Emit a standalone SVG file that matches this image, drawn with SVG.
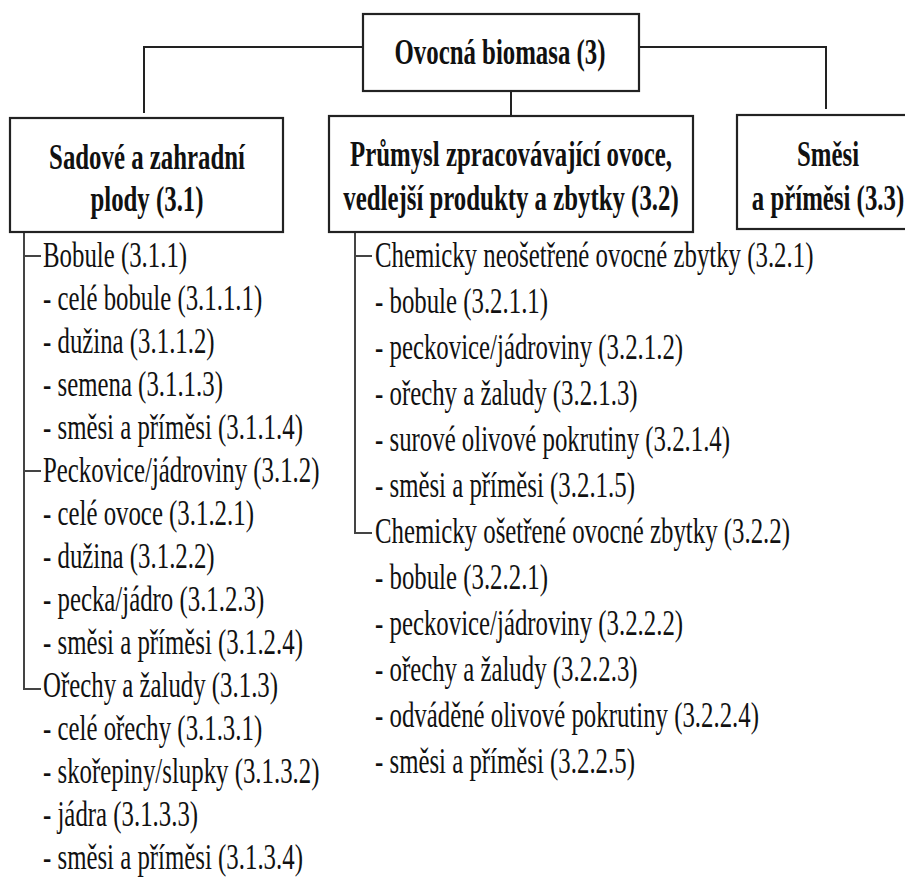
<svg xmlns="http://www.w3.org/2000/svg" width="905" height="879" viewBox="0 0 905 879">
<style>
text{font-family:"Liberation Serif","Times New Roman",serif;font-size:36px;fill:#111;}
.b{font-weight:bold;text-anchor:middle;}
.box{fill:#fff;stroke:#222;stroke-width:2.2;}
.ln{fill:none;stroke:#222;stroke-width:2;}
.tree{fill:none;stroke:#444;stroke-width:2;}
</style>
<rect width="905" height="879" fill="#fff"/>
<g id="connectors">
<path class="ln" d="M144,113 V47 H363 M639,47 H826 V109 M511,91 V116"/>
<path class="tree" d="M24,233 V689 H41 M24,256 H41 M24,471 H41"/>
<path class="tree" d="M355,233 V533 H372 M355,256 H372"/>
</g>
<g id="n3">
<rect class="box" x="363" y="14" width="276" height="77"/>
<text class="b" transform="translate(500,64) scale(0.69,1)">Ovocná biomasa (3)</text>
</g>
<g id="n31">
<rect class="box" x="10" y="118" width="273" height="114"/>
<text class="b" transform="translate(147,169) scale(0.69,1)">Sadové a zahradní</text>
<text class="b" transform="translate(147,211) scale(0.69,1)">plody (3.1)</text>
</g>
<g id="n32">
<rect class="box" x="329" y="116" width="364" height="116"/>
<text class="b" transform="translate(511,166) scale(0.69,1)">Průmysl zpracovávající ovoce,</text>
<text class="b" transform="translate(511,210) scale(0.69,1)">vedlejší produkty a zbytky (3.2)</text>
</g>
<g id="n33">
<rect class="box" x="737" y="115" width="182" height="114"/>
<text class="b" transform="translate(828,166) scale(0.69,1)">Směsi</text>
<text class="b" transform="translate(828,210) scale(0.69,1)">a příměsi (3.3)</text>
</g>
<g id="list31">
<text transform="translate(43,267) scale(0.69,1)">Bobule (3.1.1)</text>
<text transform="translate(43,310) scale(0.69,1)">- celé bobule (3.1.1.1)</text>
<text transform="translate(43,353) scale(0.69,1)">- dužina (3.1.1.2)</text>
<text transform="translate(43,396) scale(0.69,1)">- semena (3.1.1.3)</text>
<text transform="translate(43,439) scale(0.69,1)">- směsi a příměsi (3.1.1.4)</text>
<text transform="translate(43,482) scale(0.69,1)">Peckovice/jádroviny (3.1.2)</text>
<text transform="translate(43,525) scale(0.69,1)">- celé ovoce (3.1.2.1)</text>
<text transform="translate(43,568) scale(0.69,1)">- dužina (3.1.2.2)</text>
<text transform="translate(43,611) scale(0.69,1)">- pecka/jádro (3.1.2.3)</text>
<text transform="translate(43,654) scale(0.69,1)">- směsi a příměsi (3.1.2.4)</text>
<text transform="translate(43,697) scale(0.69,1)">Ořechy a žaludy (3.1.3)</text>
<text transform="translate(43,740) scale(0.69,1)">- celé ořechy (3.1.3.1)</text>
<text transform="translate(43,783) scale(0.69,1)">- skořepiny/slupky (3.1.3.2)</text>
<text transform="translate(43,826) scale(0.69,1)">- jádra (3.1.3.3)</text>
<text transform="translate(43,869) scale(0.69,1)">- směsi a příměsi (3.1.3.4)</text>
</g>
<g id="list32">
<text transform="translate(375,267) scale(0.69,1)">Chemicky neošetřené ovocné zbytky (3.2.1)</text>
<text transform="translate(375,313) scale(0.69,1)">- bobule (3.2.1.1)</text>
<text transform="translate(375,359) scale(0.69,1)">- peckovice/jádroviny (3.2.1.2)</text>
<text transform="translate(375,405) scale(0.69,1)">- ořechy a žaludy (3.2.1.3)</text>
<text transform="translate(375,451) scale(0.69,1)">- surové olivové pokrutiny (3.2.1.4)</text>
<text transform="translate(375,497) scale(0.69,1)">- směsi a příměsi (3.2.1.5)</text>
<text transform="translate(375,543) scale(0.69,1)">Chemicky ošetřené ovocné zbytky (3.2.2)</text>
<text transform="translate(375,589) scale(0.69,1)">- bobule (3.2.2.1)</text>
<text transform="translate(375,635) scale(0.69,1)">- peckovice/jádroviny (3.2.2.2)</text>
<text transform="translate(375,681) scale(0.69,1)">- ořechy a žaludy (3.2.2.3)</text>
<text transform="translate(375,727) scale(0.69,1)">- odváděné olivové pokrutiny (3.2.2.4)</text>
<text transform="translate(375,773) scale(0.69,1)">- směsi a příměsi (3.2.2.5)</text>
</g>
</svg>
